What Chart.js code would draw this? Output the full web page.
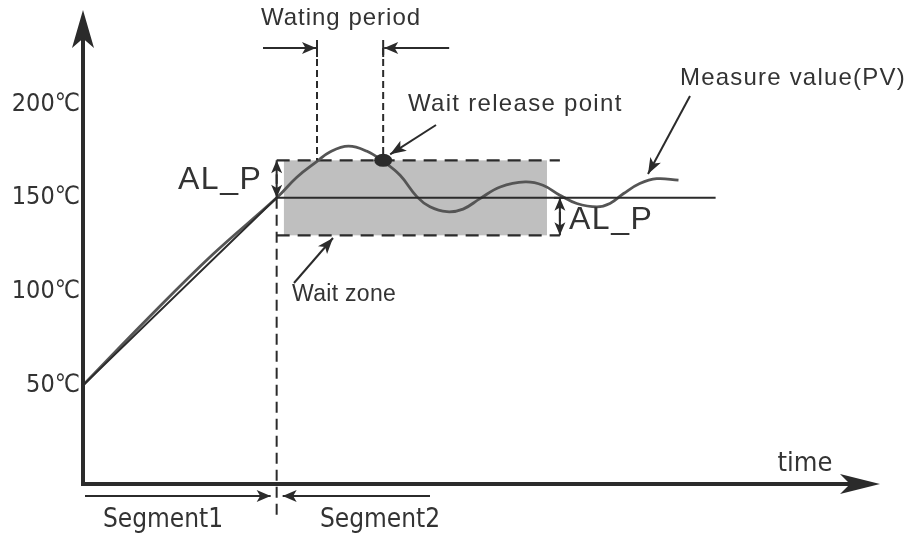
<!DOCTYPE html>
<html>
<head>
<meta charset="utf-8">
<script src="https://cdn.jsdelivr.net/npm/chart.js@4"></script>
<style>
  html, body { margin:0; padding:0; background:#fff; }
  #wrap { width:909px; height:536px; }
</style>
</head>
<body>
<div id="wrap"><canvas id="c" width="909" height="536"></canvas></div>
<script>

// set value (SP) : ramp then hold
const spTime = [0, 24, 78.4]
const spTemp = [50, 150, 150]

const pvTime = [0, 8, 16, 24, 26.5, 29.0, 30.6, 32.9, 35.2, 37.2, 39.3, 41.4, 43.0, 45.1, 47.1, 49.2, 51.7,
                54.8, 57.0, 59.1, 61.2, 63.7, 65.3, 67.0, 69.0, 71.1, 73.8]
const pvTemp = [50, 85.5, 119.5, 150, 161.0, 169.4, 174.5, 177.6, 174.8, 169.4, 162.0, 150.5, 145.2, 142.6, 144.0, 149.6, 155.8,
                158.5, 156.7, 151.4, 147.0, 145.2, 147.0, 152.3, 157.6, 160.2, 159.4]

const yTicks   = [50, 100, 150, 200]
const alP      = 20          // wait zone half width
const setPoint = 150
const segEnd   = 24          // end of segment1
const waitFrom = 29.0        // PV enters zone
const waitTo   = 37.2        // wait release point
const zoneFill = [24.9, 57.5]
const zoneLine = [24, 59.1]

const INK  = '#2b2b2b'
const TEXT = '#333'
const SANS = '"Liberation Sans", Arial, sans-serif'
const COND = '"DejaVu Sans Condensed", "DejaVu Sans", sans-serif'


function head(ctx, x, y, ang, len, half){
      ctx.save()
      ctx.translate(x, y); ctx.rotate(ang)
      ctx.beginPath()
      ctx.moveTo(0, 0)
      ctx.lineTo(-len, -half)
      ctx.lineTo(-len*0.75, 0)
      ctx.lineTo(-len, half)
      ctx.closePath()
      ctx.fill()
      ctx.restore()
}

function arrow(ctx, x1, y1, x2, y2, len, half){
      ctx.beginPath(); ctx.moveTo(x1, y1); ctx.lineTo(x2, y2); ctx.stroke()
      head(ctx, x2, y2, Math.atan2(y2-y1, x2-x1), len, half)
}

function line(ctx, x1, y1, x2, y2, dash){
      ctx.save()
      ctx.setLineDash(dash || [])
      ctx.beginPath(); ctx.moveTo(x1, y1); ctx.lineTo(x2, y2); ctx.stroke()
      ctx.restore()
}

function text(ctx, s, x, y, font, align, spacing){
      ctx.save()
      ctx.font = font
      ctx.fillStyle = TEXT
      ctx.textAlign = align || 'left'
      ctx.textBaseline = 'middle'
      ctx.letterSpacing = (spacing || 0) + 'px'
      ctx.fillText(s, x, y)
      ctx.restore()
}


const diagram = {
      id: 'diagram',

      beforeDatasetsDraw(chart){
            const ctx = chart.ctx
            const X = v => chart.scales.x.getPixelForValue(v)
            const Y = v => chart.scales.y.getPixelForValue(v)

            // wait zone
            ctx.save()
            ctx.fillStyle = '#bfbfbf'
            ctx.fillRect(X(zoneFill[0]), Y(setPoint+alP), X(zoneFill[1])-X(zoneFill[0]), Y(setPoint-alP)-Y(setPoint+alP))

            ctx.strokeStyle = INK
            ctx.lineWidth = 2.2
            line(ctx, X(zoneLine[0]), Y(setPoint+alP), X(zoneLine[1]), Y(setPoint+alP), [13, 8])
            line(ctx, X(zoneLine[0]), Y(setPoint-alP), X(zoneLine[1]), Y(setPoint-alP), [13, 8])
            ctx.restore()
      },

      afterDatasetsDraw(chart){
            const ctx = chart.ctx
            const area = chart.chartArea
            const X = v => chart.scales.x.getPixelForValue(v)
            const Y = v => chart.scales.y.getPixelForValue(v)

            ctx.save()
            ctx.strokeStyle = INK
            ctx.fillStyle = INK
            ctx.lineWidth = 2

            // segment boundary
            line(ctx, X(segEnd), Y(setPoint), X(segEnd), area.bottom + 31, [11, 6])

            // waiting period
            const wy = Y(setPoint+alP)
            line(ctx, X(waitFrom), 48, X(waitFrom), wy, [7, 4])
            line(ctx, X(waitTo),   48, X(waitTo),   wy, [7, 4])
            line(ctx, X(waitFrom), 40, X(waitFrom), 57)
            line(ctx, X(waitTo),   40, X(waitTo),   57)
            arrow(ctx, X(waitFrom)-54, 48, X(waitFrom)-1, 48, 14, 6)
            arrow(ctx, X(waitTo)+66, 48, X(waitTo)+1, 48, 14, 6)

            // AL_P markers
            arrow(ctx, X(segEnd), Y(setPoint)-14, X(segEnd), Y(setPoint+alP), 13, 5.5)
            arrow(ctx, X(segEnd), Y(setPoint+alP)+14, X(segEnd), Y(setPoint), 13, 5.5)
            const rx = X(zoneLine[1])
            arrow(ctx, rx, Y(setPoint-alP)-14, rx, Y(setPoint), 13, 5.5)
            arrow(ctx, rx, Y(setPoint)+14, rx, Y(setPoint-alP), 13, 5.5)
            line(ctx, rx-6, Y(setPoint), rx+6, Y(setPoint))

            // release point
            ctx.beginPath()
            ctx.ellipse(X(waitTo), Y(setPoint+alP), 9, 6.5, 0, 0, Math.PI*2)
            ctx.fill()

            // callouts
            arrow(ctx, 436, 125, X(waitTo)+7, Y(setPoint+alP)-6, 16, 6)
            arrow(ctx, 690, 96, 648, 174, 16, 6)
            arrow(ctx, 294, 283, 333, 238, 16, 6)

            // segment arrows
            const sy = area.bottom + 12
            arrow(ctx, area.left+2, sy, X(segEnd)-6, sy, 14, 6)
            arrow(ctx, 430, sy, X(segEnd)+6, sy, 14, 6)
            ctx.restore()

            text(ctx, 'Wating period',      341, 18,  '24px '+SANS, 'center', 1)
            text(ctx, 'Wait release point', 408, 104, '24px '+SANS, 'left', 1.3)
            text(ctx, 'Measure value(PV)',  680, 78,  '24px '+SANS, 'left', 1.2)
            text(ctx, 'Wait zone',          292, 295, '23px '+SANS, 'left', 0.3)
            text(ctx, 'AL_P', 178, 180, '32px '+SANS, 'left', 1.5)
            text(ctx, 'AL_P', 569, 220, '32px '+SANS, 'left', 1.5)
            text(ctx, 'Segment1', 163, 520, '26px '+COND, 'center')
            text(ctx, 'Segment2', 380, 520, '26px '+COND, 'center')
            text(ctx, 'time',     805, 464, '27px '+COND, 'center')
      },

      afterDraw(chart){
            const ctx = chart.ctx
            const area = chart.chartArea
            ctx.save()
            ctx.strokeStyle = INK
            ctx.fillStyle = INK
            ctx.lineWidth = 4
            ctx.beginPath()
            ctx.moveTo(area.left, 30)
            ctx.lineTo(area.left, area.bottom)
            ctx.lineTo(area.right-15, area.bottom)
            ctx.stroke()
            head(ctx, area.left, 10, -Math.PI/2, 38, 11)
            head(ctx, area.right+3, area.bottom, 0, 40, 10)
            ctx.restore()
      }
}


new Chart(document.getElementById('c'), {
      type: 'scatter',
      data: {
            datasets: [
                  {
                        label: 'SP',
                        data: spTime.map((t, i) => ({ x: t, y: spTemp[i] })),
                        showLine: true,
                        borderColor: INK,
                        borderWidth: 2,
                        pointRadius: 0,
                        tension: 0
                  },
                  {
                        label: 'PV',
                        data: pvTime.map((t, i) => ({ x: t, y: pvTemp[i] })),
                        showLine: true,
                        borderColor: '#555',
                        borderWidth: 2.8,
                        pointRadius: 0,
                        tension: 0.4
                  }
            ]
      },
      options: {
            responsive: false,
            animation: false,
            layout: { padding: { top: 15, right: 32, bottom: 52, left: 0 } },
            plugins: { legend: { display: false }, tooltip: { enabled: false } },
            scales: {
                  x: { type: 'linear', min: 0, max: 98.4, display: false },
                  y: {
                        min: -2.6, max: 245.9,
                        afterFit: (s) => { s.width = 83 },
                        afterBuildTicks: (s) => { s.ticks = yTicks.map(v => ({ value: v })) },
                        grid: { display: false, drawTicks: false },
                        border: { display: false },
                        ticks: {
                              callback: v => v + '℃',
                              color: TEXT,
                              padding: 3,
                              font: { family: COND, size: 25 }
                        }
                  }
            }
      },
      plugins: [diagram]
})

</script>
</body>
</html>
